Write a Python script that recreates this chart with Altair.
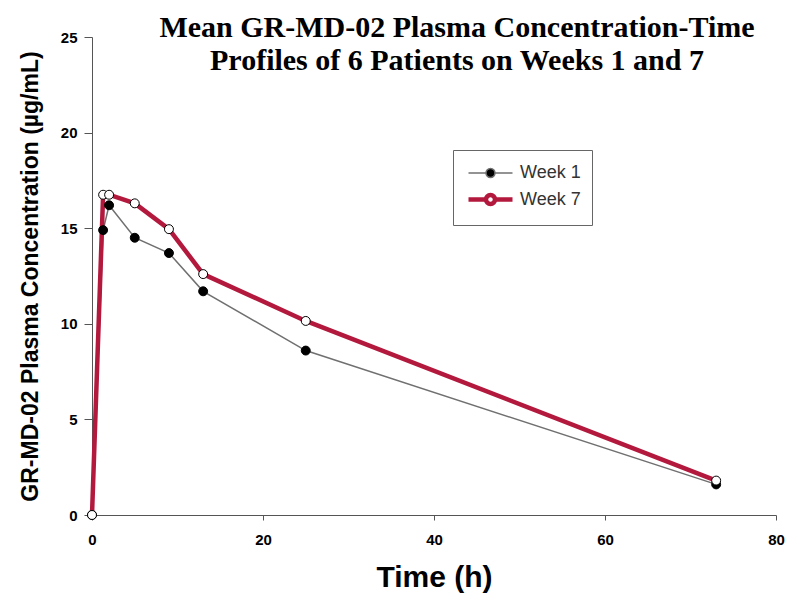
import altair as alt
import pandas as pd

times = [0, 1.3, 2, 5, 9, 13, 25, 73]
week1 = [0, 14.9, 16.2, 14.5, 13.7, 11.7, 8.6, 1.6]
week7 = [0, 16.75, 16.75, 16.3, 14.95, 12.6, 10.15, 1.8]
series_names = ["Week 1", "Week 7"]
x_ticks = [0, 20, 40, 60, 80]
y_ticks = [0, 5, 10, 15, 20, 25]

rows = []
for name, vals in zip(series_names, [week1, week7]):
    for t, v in zip(times, vals):
        rows.append({"time": t, "conc": v, "series": name})
df = pd.DataFrame(rows)

x = alt.X("time:Q", scale=alt.Scale(domain=[0, 80], nice=False, zero=False),
          axis=alt.Axis(values=x_ticks, title="Time (h)", tickSize=5,
                        labelFontSize=15, titleFontSize=30, titlePadding=15,
                        labelPadding=12, labelFlush=False))
y = alt.Y("conc:Q", scale=alt.Scale(domain=[0, 25], nice=False),
          axis=alt.Axis(values=y_ticks, title="GR-MD-02 Plasma Concentration (µg/mL)",
                        tickSize=8, labelFontSize=15, titleFontSize=23,
                        labelPadding=7, titlePadding=18, labelFlush=False))

legend = alt.Legend(title=None, orient="none", legendX=361, legendY=113,
                    symbolType="M-2,0H-0.41M0.41,0H2M0.41,0A0.41,0.41,0,1,1,-0.41,0A0.41,0.41,0,1,1,0.41,0",
                    symbolSize=484, symbolOffset=13, labelFontSize=18, labelColor="#333333",
                    labelFont="Liberation Sans", strokeColor="#666666",
                    padding=11, rowPadding=3, labelOffset=16,
                    labelExpr="datum.label + '  '")

lines = alt.Chart(df).mark_line().encode(
    x=x, y=y,
    stroke=alt.Stroke("series:N", scale=alt.Scale(domain=series_names, range=["#707070", "#b3183d"]),
                      legend=legend),
    strokeWidth=alt.StrokeWidth("series:N", scale=alt.Scale(domain=series_names, range=[1.5, 4.5]),
                                legend=legend),
    detail="series:N",
)

points = alt.Chart(df).mark_point(filled=True, size=80, stroke="black", strokeWidth=1, opacity=1).encode(
    x=x, y=y,
    fill=alt.Fill("series:N", scale=alt.Scale(domain=series_names, range=["black", "white"]),
                  legend=legend),
)

chart = alt.layer(lines, points).properties(
    width=684, height=478,
    autosize=alt.AutoSizeParams(type="none"),
    padding={"left": 92, "top": 37, "right": 13, "bottom": 79},
    title=alt.TitleParams(
        ["Mean GR-MD-02 Plasma Concentration-Time", "Profiles of 6 Patients on Weeks 1 and 7"],
        font="Liberation Serif", fontSize=30, fontWeight="bold", color="black",
        anchor="middle", dx=23, lineHeight=33, baseline="top", dy=46, offset=0,
    ),
).configure_view(stroke=None).configure_axis(
    labelFont="Liberation Sans", titleFont="Liberation Sans", labelFontWeight="bold",
    titleFontWeight="bold", labelColor="black", titleColor="black",
    domainColor="#555555", tickColor="#555555", grid=False,
)

chart.save("out.html", embed_options={"renderer": "svg", "actions": False})
